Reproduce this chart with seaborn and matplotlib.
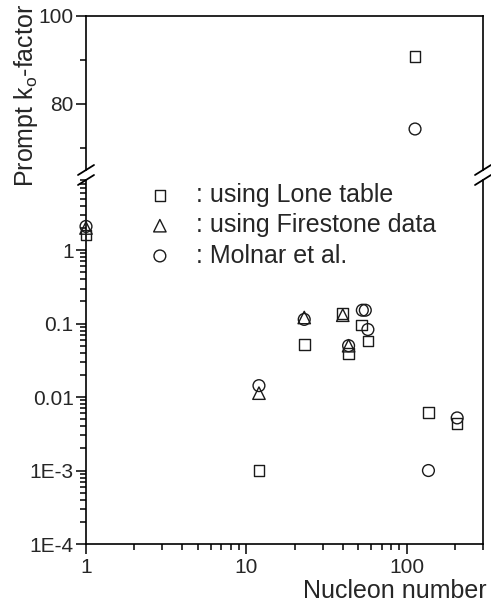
import matplotlib
matplotlib.use("Agg")
import matplotlib.pyplot as plt
import matplotlib.ticker as mticker
from matplotlib.lines import Line2D
import seaborn as sns

# ---- data ----
lone_x = [1, 12, 23, 40, 43.5, 52.5, 57.5, 137, 207]
lone_y = [1.6, 1.0e-3, 0.052, 0.136, 0.039, 0.096, 0.058, 0.0062, 0.0044]
lone_hi_x = [113]
lone_hi_y = [90.7]

fire_x = [1, 12, 23, 40, 43.5]
fire_y = [2.0, 0.0113, 0.121, 0.13, 0.05]

moln_x = [1, 12, 23, 43.5, 53, 55.3, 57.4, 137, 207]
moln_y = [2.1, 0.0143, 0.114, 0.05, 0.152, 0.152, 0.083, 1.0e-3, 0.0052]
moln_hi_x = [113]
moln_hi_y = [74.3]

x_ticks = [1, 10, 100]
x_ticklabels = ["1", "10", "100"]
low_yticks = [1e-4, 1e-3, 1e-2, 1e-1, 1]
low_yticklabels = ["1E-4", "1E-3", "0.01", "0.1", "1"]
hi_yticks = [80, 100]
hi_yticklabels = ["80", "100"]

labels = [": using Lone table", ": using Firestone data", ": Molnar et al."]

# ---- style ----
sns.set_style("ticks")
plt.rcParams["font.family"] = ["Liberation Sans", "DejaVu Sans"]
plt.rcParams["mathtext.fontset"] = "custom"
plt.rcParams["mathtext.rm"] = "Liberation Sans"

W, H = 491, 603
fig = plt.figure(figsize=(W / 100, H / 100), dpi=100)
left, right = 86 / W, 483 / W
hi_top, hi_bot = 1 - 15.7 / H, 1 - 170 / H
lo_top, lo_bot = 1 - 180 / H, 1 - 544 / H
ax_hi = fig.add_axes([left, hi_bot, right - left, hi_top - hi_bot])
ax_lo = fig.add_axes([left, lo_bot, right - left, lo_top - lo_bot])

edge = "#1a1a1a"
common = dict(facecolor="none", edgecolor=edge, linewidth=1.0, clip_on=False, zorder=3)

sns.scatterplot(x=lone_x, y=lone_y, ax=ax_lo, marker="s", s=58, label=labels[0], **common)
sns.scatterplot(x=fire_x, y=fire_y, ax=ax_lo, marker="^", s=80, label=labels[1], **common)
sns.scatterplot(x=moln_x, y=moln_y, ax=ax_lo, marker="o", s=72, label=labels[2], **common)
sns.scatterplot(x=lone_hi_x, y=lone_hi_y, ax=ax_hi, marker="s", s=58, **common)
sns.scatterplot(x=moln_hi_x, y=moln_hi_y, ax=ax_hi, marker="o", s=72, **common)

for ax in (ax_hi, ax_lo):
    ax.set_xscale("log")
    ax.set_xlim(1, 300)
    for s in ax.spines.values():
        s.set_linewidth(1.2)
        s.set_color("black")
    ax.tick_params(which="both", direction="out", color="black", width=1.1,
                   right=False, top=False, labelsize=15, pad=2)
    ax.tick_params(which="major", length=7)
    ax.tick_params(which="minor", length=4)

# upper (linear) part
ax_hi.set_ylim(65, 100)
ax_hi.yaxis.set_major_locator(mticker.FixedLocator(hi_yticks))
ax_hi.set_yticklabels(hi_yticklabels)
ax_hi.yaxis.set_minor_locator(mticker.FixedLocator([70, 90]))
ax_hi.spines["bottom"].set_visible(False)
ax_hi.tick_params(axis="x", which="both", bottom=False, labelbottom=False)

# lower (log) part
ax_lo.set_yscale("log")
ax_lo.set_ylim(1e-4, 9)
ax_lo.yaxis.set_major_locator(mticker.FixedLocator(low_yticks))
ax_lo.set_yticklabels(low_yticklabels)
ax_lo.yaxis.set_minor_locator(mticker.LogLocator(base=10, subs=range(2, 10), numticks=20))
ax_lo.yaxis.set_minor_formatter(mticker.NullFormatter())
ax_lo.spines["top"].set_visible(False)
ax_lo.xaxis.set_major_locator(mticker.FixedLocator(x_ticks))
ax_lo.set_xticklabels(x_ticklabels)
ax_lo.xaxis.set_minor_locator(mticker.LogLocator(base=10, subs=range(2, 10), numticks=20))
ax_lo.xaxis.set_minor_formatter(mticker.NullFormatter())
ax_lo.tick_params(axis="x", pad=3)

ax_lo.set_xlabel("Nucleon number", fontsize=18, ha="right", va="top")
ax_lo.xaxis.set_label_coords(1.01, -0.096)

fig.text(26 / W, 1 - 95 / H, "Prompt k$_\\mathregular{o}$-factor", rotation=90,
         fontsize=18, ha="center", va="center")

# break marks
for xb in (86, 483):
    for yb in (170, 180):
        fig.add_artist(Line2D([(xb - 8) / W, (xb + 8) / W],
                              [1 - (yb + 5) / H, 1 - (yb - 5) / H],
                              color="black", lw=1.3, transform=fig.transFigure))

leg = ax_lo.legend(loc="upper left", bbox_to_anchor=(148 / W, 1 - 183 / H),
                   bbox_transform=fig.transFigure, frameon=False, fontsize=18,
                   handlelength=0.95, handletextpad=0.95, labelspacing=0.25,
                   borderpad=0, borderaxespad=0)

fig.savefig("out.png", dpi=100)
